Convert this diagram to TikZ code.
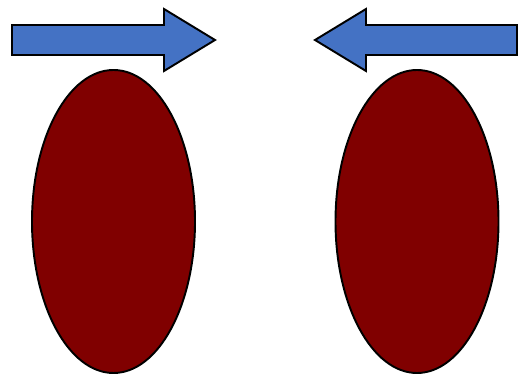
\documentclass[tikz,border=0pt]{standalone}
\usepackage{xcolor}
\usepackage{tikz}
\usetikzlibrary{shapes.geometric}
\definecolor{arrowblue}{RGB}{68,114,196}
\definecolor{darkmaroon}{RGB}{128,0,0}

\begin{document}
\begin{tikzpicture}[
  x=0.02cm, y=-0.02cm,
  bigarrow/.style={draw=black, line width=1.1pt, fill=arrowblue, line join=miter},
  blob/.style={ellipse, draw=black, line width=1.1pt, fill=darkmaroon,
               minimum width=163*0.02cm, minimum height=303*0.02cm, inner sep=0pt}
]
\useasboundingbox (0,0) rectangle (519,377);
% arrows pointing inwards
\draw[bigarrow] (12,25) -- (164,25) -- (164,9) -- (215,40) -- (164,71) -- (164,55) -- (12,55) -- cycle;
\draw[bigarrow] (517,25) -- (366,25) -- (366,9) -- (315,40) -- (366,71) -- (366,55) -- (517,55) -- cycle;
% ellipses
\node[blob] (left) at (113.5,221.5) {};
\node[blob] (right) at (417,221.5) {};
\end{tikzpicture}
\end{document}
